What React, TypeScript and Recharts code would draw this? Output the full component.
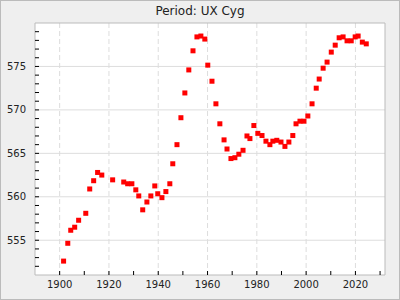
import {
  CartesianGrid,
  ReferenceArea,
  Scatter,
  ScatterChart,
  XAxis,
  YAxis,
} from "recharts";

const years = [
  1901.6, 1903.3, 1904.5, 1906.1, 1907.7, 1910.6, 1912.2, 1913.8, 1915.4, 1917.1,
  1921.5, 1926.0, 1927.6, 1929.3, 1930.9, 1932.1, 1933.7, 1935.4, 1937.0, 1938.6,
  1939.8, 1941.5, 1943.1, 1944.7, 1945.9, 1947.6, 1949.2, 1950.8, 1952.4, 1954.1,
  1955.7, 1957.3, 1958.9, 1960.1, 1961.8, 1963.4, 1965.0, 1966.7, 1967.9, 1969.5,
  1971.1, 1972.7, 1974.4, 1976.0, 1977.2, 1978.8, 1980.4, 1982.1, 1983.7, 1985.3,
  1986.5, 1988.1, 1989.8, 1991.4, 1993.0, 1994.6, 1995.9, 1997.5, 1999.1, 2000.7,
  2002.4, 2004.1, 2005.3, 2006.9, 2008.5, 2010.2, 2011.8, 2013.4, 2015.0, 2016.6,
  2018.3, 2019.9, 2021.1, 2022.8, 2024.4,
];

const periods = [
  552.6, 554.65, 556.15, 556.5, 557.3, 558.1, 560.9, 561.85, 562.8, 562.5,
  561.95, 561.7, 561.5, 561.5, 560.8, 560.1, 558.5, 559.4, 560.1, 561.25,
  560.35, 559.9, 560.6, 561.5, 563.8, 566.0, 569.1, 571.95, 574.6, 576.8,
  578.4, 578.5, 578.15, 575.15, 573.3, 570.7, 568.4, 566.55, 565.5, 564.4,
  564.5, 564.9, 565.35, 567.0, 566.7, 568.2, 567.3, 567.05, 566.4, 566.0,
  566.4, 566.5, 566.3, 565.8, 566.3, 567.05, 568.4, 568.7, 568.7, 569.3,
  570.7, 572.5, 573.55, 574.8, 575.5, 576.65, 577.45, 578.3, 578.4, 577.95,
  577.95, 578.4, 578.5, 577.8, 577.6,
];

const xDomain = [1890, 2032];
const yDomain = [551, 580];
const xMajor = [1900, 1920, 1940, 1960, 1980, 2000, 2020];
const xMinor = [1910, 1930, 1950, 1970, 1990, 2010, 2030];
const yMajor = [555, 560, 565, 570, 575];
const yMinor = [
  552, 553, 554, 556, 557, 558, 559, 561, 562, 563, 564, 566, 567, 568, 569,
  571, 572, 573, 574, 576, 577, 578, 579,
];

const data = years.map((year, i) => ({ year, period: periods[i] }));

const XTick = (props: any) => {
  const { x, y, payload } = props;
  const major = xMajor.includes(payload.value);
  return (
    <g>
      <line x1={x} x2={x} y1={y} y2={y - 4} stroke="#000" />
      {major && (
        <text x={x} y={y + 13} textAnchor="middle" fontSize={10} fill="#222">
          {payload.value}
        </text>
      )}
    </g>
  );
};

const YTick = (props: any) => {
  const { x, y, payload } = props;
  const major = yMajor.includes(payload.value);
  return (
    <g>
      <line x1={x} x2={x + 4} y1={y} y2={y} stroke="#000" />
      {major && (
        <text x={x - 9} y={y} dy="0.36em" textAnchor="end" fontSize={10} fill="#222">
          {payload.value}
        </text>
      )}
    </g>
  );
};

const Square = (props: any) => (
  <rect x={props.cx - 2.5} y={props.cy - 2.5} width={5} height={5} fill="#ff0000" />
);

export default function App() {
  return (
    <div
      style={{
        position: "absolute",
        top: 0,
        left: 0,
        width: 400,
        height: 300,
        background: "#efefef",
        boxShadow: "inset 0 0 0 1px #bbb",
        fontFamily: "'DejaVu Sans', sans-serif",
      }}
    >
      <div
        style={{
          position: "absolute",
          top: 4,
          left: 0,
          width: 400,
          textAlign: "center",
          fontSize: 12,
          lineHeight: "14px",
          color: "#222",
        }}
      >
        Period: UX Cyg
      </div>
      <div style={{ position: "absolute", top: 0, left: 0 }}>
        <ScatterChart
          width={400}
          height={300}
          margin={{ top: 23, right: 15, bottom: 0, left: 0 }}
          style={{ fontFamily: "'DejaVu Sans', sans-serif" }}
        >
          <CartesianGrid
            fill="#ffffff"
            vertical={false}
            stroke="#dddddd"
            horizontalValues={yMajor}
          />
          <CartesianGrid
            horizontal={false}
            stroke="#dddddd"
            strokeDasharray="5 3"
            verticalValues={xMajor}
          />
          <XAxis
            type="number"
            dataKey="year"
            domain={xDomain}
            ticks={[...xMajor, ...xMinor].sort((a, b) => a - b)}
            interval={0}
            height={25}
            tickSize={0}
            tickMargin={0}
            axisLine={false}
            tickLine={false}
            tick={<XTick />}
            allowDataOverflow
          />
          <YAxis
            type="number"
            dataKey="period"
            domain={yDomain}
            ticks={[...yMajor, ...yMinor].sort((a, b) => a - b)}
            interval={0}
            width={35}
            tickSize={0}
            tickMargin={0}
            axisLine={false}
            tickLine={false}
            tick={<YTick />}
            allowDataOverflow
          />
          <ReferenceArea
            x1={xDomain[0]}
            x2={xDomain[1]}
            y1={yDomain[0]}
            y2={yDomain[1]}
            fill="none"
            fillOpacity={0}
            stroke="#bbbbbb"
            strokeOpacity={1}
          />
          <Scatter data={data} shape={<Square />} isAnimationActive={false} />
        </ScatterChart>
      </div>
    </div>
  );
}
